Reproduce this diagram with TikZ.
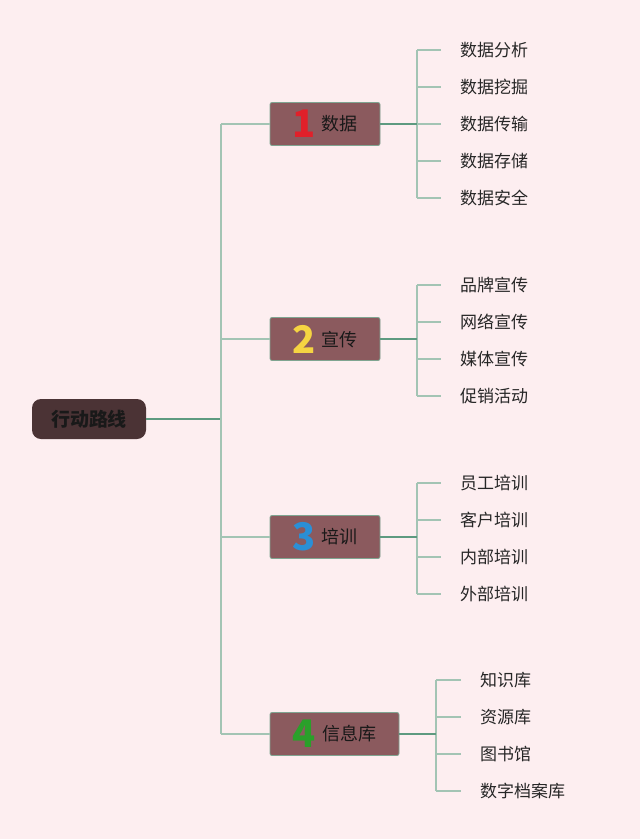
\documentclass[tikz,border=0pt]{standalone}
\usepackage{fontspec}
\setmainfont{Noto Sans CJK SC}
\usetikzlibrary{calc}
\definecolor{bgpink}{HTML}{FDEEF0}
\definecolor{rootfill}{HTML}{4B3335}
\definecolor{boxfill}{HTML}{8B5A5E}
\definecolor{boxline}{HTML}{7FA591}
\definecolor{mainline}{HTML}{5E9A80}
\definecolor{leafline}{HTML}{A3C4B4}
\definecolor{numred}{HTML}{E0202A}
\definecolor{numyellow}{HTML}{F5D442}
\definecolor{numblue}{HTML}{2A8FD6}
\definecolor{numgreen}{HTML}{2AA02A}

\newcommand{\bignum}[2]{\raisebox{-7pt}{\fontsize{38}{38}\selectfont\bfseries\color{#1}#2}\hspace{6pt}}

\tikzset{
  rootbox/.style={fill=rootfill, rounded corners=9pt, minimum width=114pt, minimum height=40pt,
    font=\fontsize{19}{19}\selectfont\bfseries, text=black!90},
  branchbox/.style={fill=boxfill, draw=boxline, line width=0.8pt, rounded corners=2pt,
    minimum width=110pt, minimum height=43pt, inner sep=0pt,
    font=\fontsize{18}{18}\selectfont, text=black!90},
  leaf/.style={anchor=west, inner sep=0pt, font=\fontsize{17}{17}\selectfont, text=black!85},
  mainwire/.style={draw=mainline, line width=1.6pt},
  leafwire/.style={draw=leafline, line width=1.4pt},
}

\begin{document}
\begin{tikzpicture}[x=1pt,y=-1pt]
\fill[bgpink] (0,0) rectangle (640,839);
\useasboundingbox (0,0) rectangle (640,839);

% root and the four branches
\node[rootbox] (root) at (89,419) {行动路线};
\coordinate (hub) at (221,419);

\node[branchbox] (b1) at (325,124) {\bignum{numred}{1}数据};
\node[branchbox] (b2) at (325,339) {\bignum{numyellow}{2}宣传};
\node[branchbox] (b3) at (325,537) {\bignum{numblue}{3}培训};
\node[branchbox, minimum width=129pt] (b4) at (334.5,734) {\bignum{numgreen}{4}信息库};

\draw[mainwire] (root.east) -- (hub);
\draw[leafwire] (hub |- b1) -- (hub |- b4);
\foreach \b in {b1,b2,b3,b4}
  \draw[leafwire] (hub |- \b) -- (\b.west);

% leaves
\foreach \t [count=\i] in {数据分析,数据挖掘,数据传输,数据存储,数据安全}
  \node[leaf] (l1\i) at (460,{50+37*(\i-1)}) {\t};
\foreach \t [count=\i] in {品牌宣传,网络宣传,媒体宣传,促销活动}
  \node[leaf] (l2\i) at (460,{285+37*(\i-1)}) {\t};
\foreach \t [count=\i] in {员工培训,客户培训,内部培训,外部培训}
  \node[leaf] (l3\i) at (460,{483+37*(\i-1)}) {\t};
\foreach \t [count=\i] in {知识库,资源库,图书馆,数字档案库}
  \node[leaf] (l4\i) at (480,{680+37*(\i-1)}) {\t};

\coordinate (j1) at (417,124);
\coordinate (j2) at (417,339);
\coordinate (j3) at (417,537);
\coordinate (j4) at (436,734);

\draw[leafwire] (j1 |- l11) -- (j1 |- l15);
\draw[leafwire] (j2 |- l21) -- (j2 |- l24);
\draw[leafwire] (j3 |- l31) -- (j3 |- l34);
\draw[leafwire] (j4 |- l41) -- (j4 |- l44);

\foreach \b/\n in {1/5,2/4,3/4,4/4}{
  \draw[mainwire] (b\b.east) -- (j\b);
  \foreach \i in {1,...,\n}
    \draw[leafwire] (j\b |- l\b\i) -- ([xshift=-19pt]l\b\i.west);
}
\end{tikzpicture}
\end{document}
